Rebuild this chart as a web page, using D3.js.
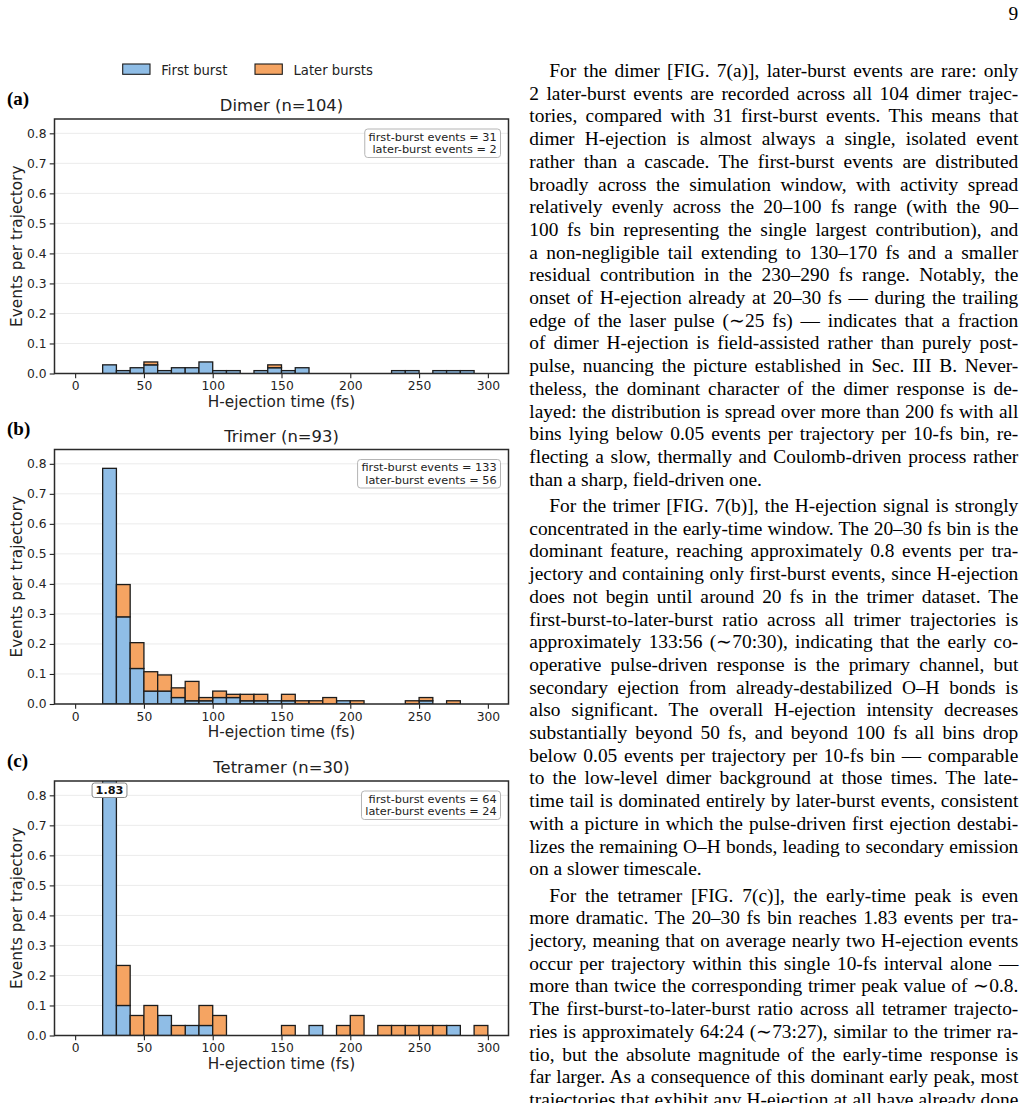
<!DOCTYPE html>
<html><head><meta charset="utf-8">
<script src="https://cdn.jsdelivr.net/npm/d3@7"></script>
<style>
html,body{margin:0;padding:0;background:#fff;overflow:hidden;width:1026px;height:1103px;}
svg{display:block;}
</style></head><body>
<script>
// ---------- data ----------
const binStart = [0,10,20,30,40,50,60,70,80,90,100,110,120,130,140,150,160,170,180,190,200,210,220,230,240,250,260,270,280,290];
const binWidth = 10;
const panelTitles = ["Dimer (n=104)", "Trimer (n=93)", "Tetramer (n=30)"];
const panelLabels = ["(a)", "(b)", "(c)"];
const trajectories = [104, 93, 30];
// event counts per 10-fs bin
const dimerFirst    = [0,0,3,1,2,3,1,2,2,4,1,1,0,1,2,1,2,0,0,0,0,0,0,1,1,0,1,1,1,0];
const dimerLater    = [0,0,0,0,0,1,0,0,0,0,0,0,0,0,1,0,0,0,0,0,0,0,0,0,0,0,0,0,0,0];
const trimerFirst   = [0,0,73,27,11,4,4,2,1,1,2,2,1,1,1,1,0,0,0,1,0,0,0,0,0,1,0,0,0,0];
const trimerLater   = [0,0,0,10,8,6,5,3,6,1,2,1,2,2,0,2,1,1,2,0,1,0,0,0,1,1,0,1,0,0];
const tetramerFirst = [0,0,55,3,0,0,2,0,1,1,0,0,0,0,0,0,0,1,0,0,0,0,0,0,0,0,0,1,0,0];
const tetramerLater = [0,0,0,4,2,3,0,1,0,2,2,0,0,0,0,1,0,0,0,1,2,0,1,1,1,1,1,0,0,1];
const firstTotals = [31, 133, 64];
const laterTotals = [2, 56, 24];
const peakLabel = "1.83";
const seriesNames = ["First burst", "Later bursts"];
const xTicks = [0,50,100,150,200,250,300];
const yTicks = [0,0.1,0.2,0.3,0.4,0.5,0.6,0.7,0.8];
const xLabel = "H-ejection time (fs)";
const yLabel = "Events per trajectory";
const pageNumber = "9";

const paragraphs = [
[
"For the dimer [FIG. 7(a)], later-burst events are rare: only",
"2 later-burst events are recorded across all 104 dimer trajec-",
"tories, compared with 31 first-burst events. This means that",
"dimer H-ejection is almost always a single, isolated event",
"rather than a cascade. The first-burst events are distributed",
"broadly across the simulation window, with activity spread",
"relatively evenly across the 20–100 fs range (with the 90–",
"100 fs bin representing the single largest contribution), and",
"a non-negligible tail extending to 130–170 fs and a smaller",
"residual contribution in the 230–290 fs range. Notably, the",
"onset of H-ejection already at 20–30 fs — during the trailing",
"edge of the laser pulse (∼25 fs) — indicates that a fraction",
"of dimer H-ejection is field-assisted rather than purely post-",
"pulse, nuancing the picture established in Sec. III B. Never-",
"theless, the dominant character of the dimer response is de-",
"layed: the distribution is spread over more than 200 fs with all",
"bins lying below 0.05 events per trajectory per 10-fs bin, re-",
"flecting a slow, thermally and Coulomb-driven process rather",
"than a sharp, field-driven one."
],
[
"For the trimer [FIG. 7(b)], the H-ejection signal is strongly",
"concentrated in the early-time window. The 20–30 fs bin is the",
"dominant feature, reaching approximately 0.8 events per tra-",
"jectory and containing only first-burst events, since H-ejection",
"does not begin until around 20 fs in the trimer dataset. The",
"first-burst-to-later-burst ratio across all trimer trajectories is",
"approximately 133:56 (∼70:30), indicating that the early co-",
"operative pulse-driven response is the primary channel, but",
"secondary ejection from already-destabilized O–H bonds is",
"also significant. The overall H-ejection intensity decreases",
"substantially beyond 50 fs, and beyond 100 fs all bins drop",
"below 0.05 events per trajectory per 10-fs bin — comparable",
"to the low-level dimer background at those times. The late-",
"time tail is dominated entirely by later-burst events, consistent",
"with a picture in which the pulse-driven first ejection destabi-",
"lizes the remaining O–H bonds, leading to secondary emission",
"on a slower timescale."
],
[
"For the tetramer [FIG. 7(c)], the early-time peak is even",
"more dramatic. The 20–30 fs bin reaches 1.83 events per tra-",
"jectory, meaning that on average nearly two H-ejection events",
"occur per trajectory within this single 10-fs interval alone —",
"more than twice the corresponding trimer peak value of ∼0.8.",
"The first-burst-to-later-burst ratio across all tetramer trajecto-",
"ries is approximately 64:24 (∼73:27), similar to the trimer ra-",
"tio, but the absolute magnitude of the early-time response is",
"far larger. As a consequence of this dominant early peak, most",
"trajectories that exhibit any H-ejection at all have already done"
]
];

// ---------- layout ----------
const W = 1026, H = 1103;
const SANS = "'DejaVu Sans', sans-serif";
const SERIF = "'Liberation Serif', 'Times New Roman', serif";
const BLUE = "#8fbde6", ORANGE = "#f5a462", EDGE = "#1c1c1c";
const axL = 54.5, axR = 508.5, axH = 254.5;
const panelTops = [119, 449.5, 781];
const yMax = 0.8477;

const firstSeries = [dimerFirst, trimerFirst, tetramerFirst];
const laterSeries = [dimerLater, trimerLater, tetramerLater];

const svg = d3.select("body").append("svg").attr("width", W).attr("height", H);
svg.append("rect").attr("width", W).attr("height", H).attr("fill", "#fff");

const x = d3.scaleLinear().domain([-15, 315]).range([axL, axR]);

// legend
const legend = svg.append("g");
const legendX = [122.7, 255];
const legendColors = [BLUE, ORANGE];
seriesNames.forEach((name, i) => {
  legend.append("rect").attr("x", legendX[i]).attr("y", 64).attr("width", 27.3).attr("height", 10.3)
    .attr("fill", legendColors[i]).attr("stroke", EDGE).attr("stroke-width", 1.1);
  legend.append("text").attr("x", legendX[i] + 38.5).attr("y", 74.6)
    .attr("font-family", SANS).attr("font-size", 13.2).attr("fill", "#222").text(name);
});

panelTops.forEach((top, p) => {
  const n = trajectories[p];
  const y = d3.scaleLinear().domain([0, yMax]).range([top + axH, top]);
  const g = svg.append("g");
  const clipId = "clip" + p;
  svg.append("clipPath").attr("id", clipId).append("rect")
    .attr("x", axL).attr("y", top).attr("width", axR - axL).attr("height", axH);

  // grid
  g.append("g").selectAll("line").data(yTicks).join("line")
    .attr("x1", axL).attr("x2", axR).attr("y1", d => y(d)).attr("y2", d => y(d))
    .attr("stroke", "#ebebeb").attr("stroke-width", 1);

  // bars
  const bins = binStart.map((b, i) => ({b, f: firstSeries[p][i] / n, l: laterSeries[p][i] / n}));
  const bars = g.append("g").attr("clip-path", `url(#${clipId})`);
  bars.selectAll("rect.first").data(bins.filter(d => d.f > 0)).join("rect")
    .attr("class", "first")
    .attr("x", d => x(d.b)).attr("width", d => x(d.b + binWidth) - x(d.b))
    .attr("y", d => y(d.f)).attr("height", d => y(0) - y(d.f))
    .attr("fill", BLUE).attr("stroke", EDGE).attr("stroke-width", 1.3);
  bars.selectAll("rect.later").data(bins.filter(d => d.l > 0)).join("rect")
    .attr("class", "later")
    .attr("x", d => x(d.b)).attr("width", d => x(d.b + binWidth) - x(d.b))
    .attr("y", d => y(d.f + d.l)).attr("height", d => y(d.f) - y(d.f + d.l))
    .attr("fill", ORANGE).attr("stroke", EDGE).attr("stroke-width", 1.3);

  // axes
  const ax = g.append("g").attr("transform", `translate(0,${top + axH})`)
    .call(d3.axisBottom(x).tickValues(xTicks).tickSize(4.8).tickPadding(3.2));
  const ay = g.append("g").attr("transform", `translate(${axL},0)`)
    .call(d3.axisLeft(y).tickValues(yTicks).tickFormat(d3.format(".1f")).tickSize(4.8).tickPadding(3.2));
  [ax, ay].forEach(a => {
    a.select(".domain").remove();
    a.selectAll("line").attr("stroke", "#222").attr("stroke-width", 1.1);
    a.selectAll("text").attr("font-family", SANS).attr("font-size", 12.3).attr("fill", "#222");
  });

  // frame
  g.append("rect").attr("x", axL).attr("y", top).attr("width", axR - axL).attr("height", axH)
    .attr("fill", "none").attr("stroke", "#2a2a2a").attr("stroke-width", 1.5);

  // titles and labels
  g.append("text").attr("x", (axL + axR) / 2).attr("y", top - 8).attr("text-anchor", "middle")
    .attr("font-family", SANS).attr("font-size", 16.4).attr("fill", "#222").text(panelTitles[p]);
  g.append("text").attr("x", 7).attr("y", top - 14.5)
    .attr("font-family", SERIF).attr("font-weight", "bold").attr("font-size", 19).attr("fill", "#000").text(panelLabels[p]);
  g.append("text").attr("x", (axL + axR) / 2).attr("y", top + axH + 33)
    .attr("text-anchor", "middle").attr("font-family", SANS).attr("font-size", 15.3).attr("fill", "#222").text(xLabel);
  g.append("text").attr("transform", `translate(21.5,${top + axH / 2}) rotate(-90)`)
    .attr("text-anchor", "middle").attr("font-family", SANS).attr("font-size", 15.3).attr("fill", "#222").text(yLabel);

  // annotation box
  const ann = g.append("g");
  const box = ann.append("rect");
  const tx = 496.7;
  const t1 = ann.append("text").attr("x", tx).attr("y", top + 21.8).attr("text-anchor", "end")
    .attr("font-family", SANS).attr("font-size", 11.3).attr("fill", "#222")
    .text(`first-burst events = ${firstTotals[p]}`);
  const t2 = ann.append("text").attr("x", tx).attr("y", top + 34.1).attr("text-anchor", "end")
    .attr("font-family", SANS).attr("font-size", 11.3).attr("fill", "#222")
    .text(`later-burst events = ${laterTotals[p]}`);
  const w = Math.max(t1.node().getComputedTextLength(), t2.node().getComputedTextLength());
  box.attr("x", tx - w - 3.8).attr("y", top + 10).attr("width", w + 7.6).attr("height", 28.5)
    .attr("rx", 3).attr("fill", "#fff").attr("fill-opacity", 0.9).attr("stroke", "#b5b5b5").attr("stroke-width", 1);

  // clipped peak label
  if (p === 2) {
    const pk = bins.reduce((a, b) => (b.f + b.l > a.f + a.l ? b : a));
    const cx = x(pk.b + binWidth / 2);
    const lg = g.append("g");
    const lb = lg.append("rect");
    const lt = lg.append("text").attr("x", cx).attr("y", top + 13.2).attr("text-anchor", "middle")
      .attr("font-family", SANS).attr("font-weight", "bold").attr("font-size", 11.3).attr("fill", "#111")
      .text(peakLabel);
    const lw = lt.node().getComputedTextLength();
    lb.attr("x", cx - lw / 2 - 3.5).attr("y", top + 2).attr("width", lw + 7).attr("height", 14.5)
      .attr("rx", 2.5).attr("fill", "#fff").attr("stroke", "#888").attr("stroke-width", 1);
  }
});

// ---------- text column ----------
const tcol = svg.append("g").attr("font-family", SERIF).attr("font-size", 19.4).attr("fill", "#000");
tcol.append("text").attr("x", 1018.3).attr("y", 19.5).attr("text-anchor", "end").text(pageNumber);
const colL = 529.3, colR = 1018.3, indent = 20, lineH = 22.7, parGap = 3.7;
let base = 77;
paragraphs.forEach((lines, pi) => {
  lines.forEach((ln, li) => {
    const x0 = li === 0 ? colL + indent : colL;
    const t = tcol.append("text").attr("x", x0).attr("y", base).text(ln);
    const isLast = li === lines.length - 1 && pi < paragraphs.length - 1;
    if (!isLast) {
      const nat = t.node().getComputedTextLength();
      const spaces = (ln.match(/ /g) || []).length;
      if (spaces > 0) t.style("word-spacing", ((colR - x0 - nat) / spaces) + "px");
    }
    base += lineH;
  });
  base += parGap;
});
</script>
</body></html>
